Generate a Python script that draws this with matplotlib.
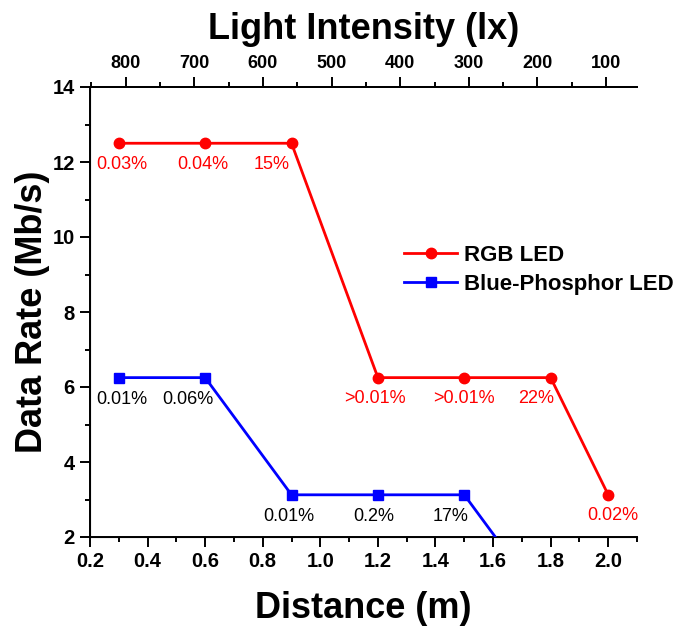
import matplotlib
matplotlib.use("Agg")
import matplotlib.pyplot as plt
from matplotlib.ticker import MultipleLocator

plt.rcParams["font.family"] = ["Liberation Sans", "DejaVu Sans"]

# data
rgb_x = [0.3, 0.6, 0.9, 1.2, 1.5, 1.8, 2.0]
rgb_y = [12.5, 12.5, 12.5, 6.25, 6.25, 6.25, 3.125]
rgb_labels = ["0.03%", "0.04%", "15%", ">0.01%", ">0.01%", "22%", "0.02%"]

blue_x = [0.3, 0.6, 0.9, 1.2, 1.5, 1.8]
blue_y = [6.25, 6.25, 3.125, 3.125, 3.125, 0.0]
blue_labels = ["0.01%", "0.06%", "0.01%", "0.2%", "17%"]

lux_ticks = [800, 700, 600, 500, 400, 300, 200, 100]

# label nudges in pixels (x), purely cosmetic
rgb_dx = [3, -2, -20, -3, 0, -15, 5]
blue_dx = [3, -17, -3, -4, -14]

W, H = 673, 626
fig = plt.figure(figsize=(W / 100, H / 100), dpi=100)
L, R, T, B = 90, 637, 87, 537
ax = fig.add_axes([L / W, 1 - B / H, (R - L) / W, (B - T) / H])

ax.plot(rgb_x, rgb_y, color="#ff0000", lw=2, marker="o", ms=7.5, label="RGB LED", zorder=3)
ax.plot(blue_x, blue_y, color="#0000ff", lw=2, marker="s", ms=6.5, label="Blue-Phosphor LED",
        zorder=3)

px = 0.72  # points per pixel at 100 dpi
for x, y, t, dx in zip(rgb_x, rgb_y, rgb_labels, rgb_dx):
    ax.annotate(t, (x, y), xytext=(dx * px, -21 * px), textcoords="offset points",
                ha="center", va="center", color="#ff0000", fontsize=13)
for x, y, t, dx in zip(blue_x, blue_y, blue_labels, blue_dx):
    ax.annotate(t, (x, y), xytext=(dx * px, -22 * px), textcoords="offset points",
                ha="center", va="center", color="black", fontsize=13)

ax.set_xlim(0.2, 2.1)
ax.set_ylim(2, 14)
ax.xaxis.set_major_locator(MultipleLocator(0.2))
ax.xaxis.set_minor_locator(MultipleLocator(0.1))
ax.yaxis.set_major_locator(MultipleLocator(2))
ax.yaxis.set_minor_locator(MultipleLocator(1))
ax.xaxis.set_major_formatter(plt.FuncFormatter(lambda v, _: f"{v:.1f}"))
ax.spines["right"].set_visible(False)
for s in ["left", "bottom", "top"]:
    ax.spines[s].set_linewidth(1.4)
ax.tick_params(which="major", direction="out", length=7, width=1.4, labelsize=14.5, pad=4)
ax.tick_params(which="minor", direction="out", length=3.6, width=1.4)
for lbl in ax.get_xticklabels() + ax.get_yticklabels():
    lbl.set_fontweight("bold")

ax.set_xlabel("Distance (m)", fontsize=26, fontweight="bold", labelpad=14)
ax.set_ylabel("Data Rate (Mb/s)", fontsize=26, fontweight="bold", labelpad=2)

ax2 = ax.twiny()
ax2.set_xlim(852, 55)
ax2.set_xticks(lux_ticks)
ax2.xaxis.set_minor_locator(MultipleLocator(50))
ax2.spines["right"].set_visible(False)
ax2.spines["top"].set_linewidth(1.4)
ax2.tick_params(which="major", direction="out", length=7, width=1.4, labelsize=13, pad=4)
ax2.tick_params(which="minor", direction="out", length=3.6, width=1.4)
for lbl in ax2.get_xticklabels():
    lbl.set_fontweight("bold")
ax2.set_xlabel("Light Intensity (lx)", fontsize=26, fontweight="bold", labelpad=11)

leg = ax.legend(loc="center left", bbox_to_anchor=((404 - L) / (R - L), (B - 270) / (B - T)),
                frameon=False, prop={"size": 16, "weight": "bold"}, handlelength=2.4,
                handletextpad=0.3, labelspacing=0.35, borderpad=0, borderaxespad=0)

fig.savefig("out.png", dpi=100)
